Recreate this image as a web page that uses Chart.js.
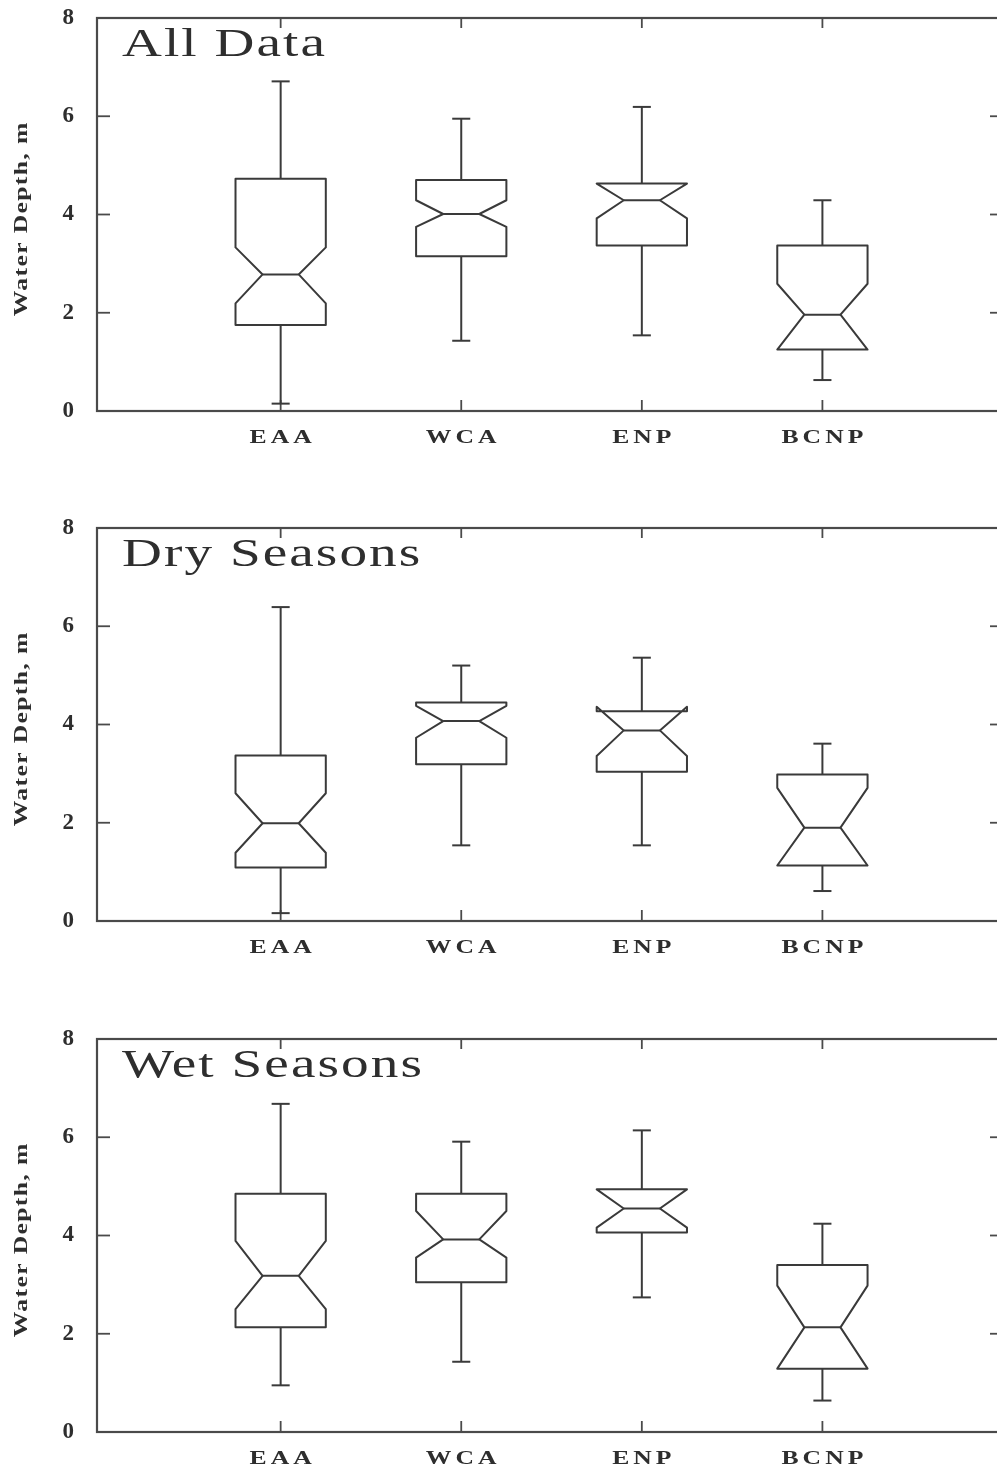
<!DOCTYPE html>
<html lang="en">
<head>
<meta charset="UTF-8">
<title>Water Depth Box Plots</title>
<script src="https://cdn.jsdelivr.net/npm/chart.js"></script>
<style>
    html, body { margin: 0; padding: 0; background: #fff; overflow: hidden; width: 997px; height: 1474px; }
    .panel { position: absolute; left: 0; width: 1006px; height: 510px; }
</style>
</head>
<body>
<div class="panel" style="top:0px"><canvas id="allChart" width="1006" height="510"></canvas></div>
<div class="panel" style="top:510px"><canvas id="dryChart" width="1006" height="510"></canvas></div>
<div class="panel" style="top:1021px"><canvas id="wetChart" width="1006" height="510"></canvas></div>
<script>
// categories and axis ticks
const sites = ['EAA', 'WCA', 'ENP', 'BCNP'];
const yTicks = [0, 2, 4, 6, 8];

// All Data
const allLow      = [0.15, 1.43, 1.54, 0.63];
const allQ1       = [1.75, 3.15, 3.37, 1.25];
const allNotchLo  = [2.19, 3.75, 3.92, 1.25];
const allMedian   = [2.78, 4.01, 4.29, 1.96];
const allNotchHi  = [3.33, 4.29, 4.63, 2.59];
const allQ3       = [4.73, 4.70, 4.63, 3.37];
const allHigh     = [6.71, 5.95, 6.19, 4.29];

// Dry Seasons
const dryLow      = [0.16, 1.54, 1.54, 0.61];
const dryQ1       = [1.09, 3.19, 3.04, 1.13];
const dryNotchLo  = [1.39, 3.73, 3.36, 1.13];
const dryMedian   = [1.99, 4.07, 3.88, 1.90];
const dryNotchHi  = [2.60, 4.38, 4.36, 2.71];
const dryQ3       = [3.37, 4.45, 4.27, 2.98];
const dryHigh     = [6.39, 5.20, 5.36, 3.61];

// Wet Seasons
const wetLow      = [0.95, 1.43, 2.74, 0.64];
const wetQ1       = [2.13, 3.05, 4.06, 1.29];
const wetNotchLo  = [2.50, 3.55, 4.16, 1.29];
const wetMedian   = [3.18, 3.92, 4.55, 2.13];
const wetNotchHi  = [3.89, 4.50, 4.94, 2.98];
const wetQ3       = [4.85, 4.85, 4.94, 3.40];
const wetHigh     = [6.68, 5.91, 6.14, 4.24];

const ink = '#2e2e2e';
const serif = "'Liberation Serif', 'Times New Roman', serif";

// draws text stretched horizontally, with letter spacing
function stretchText(ctx, text, x, y, font, sx, spacing, align) {
    ctx.save();
    ctx.font = font;
    ctx.letterSpacing = spacing + 'px';
    const w = (ctx.measureText(text).width - spacing) * sx;
    const left = align === 'center' ? x - w / 2 : x;
    ctx.translate(left, y);
    ctx.scale(sx, 1);
    ctx.textAlign = 'left';
    ctx.fillText(text, 0, 0);
    ctx.restore();
}

function line(ctx, x1, y1, x2, y2) {
    ctx.beginPath();
    ctx.moveTo(x1, y1);
    ctx.lineTo(x2, y2);
    ctx.stroke();
}

const boxPlugin = {
    id: 'notchedBoxes',
    afterDraw(chart, args, opts) {
        const { ctx, chartArea: a, scales: { x, y } } = chart;
        const s = opts.stats;
        ctx.save();

        // frame + inner ticks
        ctx.strokeStyle = '#4a4a4a';
        ctx.lineWidth = 2.2;
        ctx.strokeRect(a.left, a.top, a.right - a.left, a.bottom - a.top);
        ctx.lineWidth = 1.8;
        yTicks.forEach(v => {
            const py = y.getPixelForValue(v);
            line(ctx, a.left, py, a.left + 13, py);
            line(ctx, a.right, py, a.right - 13, py);
        });
        sites.forEach((_, i) => {
            const px = x.getPixelForValue(i + 1);
            line(ctx, px, a.top, px, a.top + 10);
            line(ctx, px, a.bottom, px, a.bottom - 11);
        });

        // notched boxes
        ctx.strokeStyle = '#3a3a3a';
        ctx.lineWidth = 2;
        ctx.lineJoin = 'round';
        sites.forEach((_, i) => {
            const c = i + 1;
            const cx = x.getPixelForValue(c);
            const L = x.getPixelForValue(c - 0.25), R = x.getPixelForValue(c + 0.25);
            const iL = x.getPixelForValue(c - 0.1), iR = x.getPixelForValue(c + 0.1);
            const cL = x.getPixelForValue(c - 0.05), cR = x.getPixelForValue(c + 0.05);
            const q1 = y.getPixelForValue(s.q1[i]), q3 = y.getPixelForValue(s.q3[i]);
            const nLo = y.getPixelForValue(s.notchLo[i]), nHi = y.getPixelForValue(s.notchHi[i]);
            const md = y.getPixelForValue(s.median[i]);
            const lo = y.getPixelForValue(s.low[i]), hi = y.getPixelForValue(s.high[i]);

            ctx.beginPath();
            ctx.moveTo(L, q1);
            ctx.lineTo(L, nLo);
            ctx.lineTo(iL, md);
            ctx.lineTo(L, nHi);
            ctx.lineTo(L, q3);
            ctx.lineTo(R, q3);
            ctx.lineTo(R, nHi);
            ctx.lineTo(iR, md);
            ctx.lineTo(R, nLo);
            ctx.lineTo(R, q1);
            ctx.closePath();
            ctx.stroke();

            line(ctx, iL, md, iR, md);
            // whiskers
            line(ctx, cx, q3, cx, hi);
            line(ctx, cL, hi, cR, hi);
            line(ctx, cx, q1, cx, lo);
            line(ctx, cL, lo, cR, lo);
        });

        // text
        ctx.fillStyle = ink;
        ctx.textBaseline = 'middle';
        sites.forEach((name, i) => {
            stretchText(ctx, name, x.getPixelForValue(i + 1), a.bottom + 27, 'bold 19px ' + serif, 1.35, 3, 'center');
        });
        ctx.save();
        ctx.translate(22, (a.top + a.bottom) / 2 + 5);
        ctx.rotate(-Math.PI / 2);
        stretchText(ctx, 'Water Depth, m', 0, 0, 'bold 19px ' + serif, 1.35, 1, 'center');
        ctx.restore();

        ctx.textBaseline = 'alphabetic';
        stretchText(ctx, opts.title, 122, a.top + 38, '40px ' + serif, 1.38, 1.5, 'left');
        ctx.restore();
    }
};

function createBoxChart(id, title, stats) {
    return new Chart(document.getElementById(id), {
        type: 'scatter',
        data: { datasets: [] },
        options: {
            responsive: false,
            animation: false,
            layout: { padding: { top: 18, right: 3, bottom: 0, left: 0 } },
            plugins: {
                legend: { display: false },
                tooltip: { enabled: false },
                notchedBoxes: { title: title, stats: stats }
            },
            scales: {
                x: {
                    type: 'linear',
                    min: -0.017,
                    max: 5,
                    grid: { display: false, drawTicks: false },
                    border: { display: false },
                    ticks: { display: false },
                    afterFit: scale => {
                        scale.height = 99;
                        scale.paddingLeft = 0;
                        scale.paddingRight = 0;
                    }
                },
                y: {
                    type: 'linear',
                    min: 0,
                    max: 8,
                    grid: { display: false, drawTicks: false },
                    border: { display: false },
                    afterBuildTicks: scale => { scale.ticks = yTicks.map(v => ({ value: v })); },
                    ticks: {
                        padding: 23,
                        color: ink,
                        font: { family: serif, size: 23, weight: 'bold' }
                    },
                    afterFit: scale => {
                        scale.width = 97;
                        scale.paddingTop = 0;
                        scale.paddingBottom = 0;
                    }
                }
            }
        },
        plugins: [boxPlugin]
    });
}

createBoxChart('allChart', 'All Data', {
    low: allLow, q1: allQ1, notchLo: allNotchLo, median: allMedian,
    notchHi: allNotchHi, q3: allQ3, high: allHigh
});
createBoxChart('dryChart', 'Dry Seasons', {
    low: dryLow, q1: dryQ1, notchLo: dryNotchLo, median: dryMedian,
    notchHi: dryNotchHi, q3: dryQ3, high: dryHigh
});
createBoxChart('wetChart', 'Wet Seasons', {
    low: wetLow, q1: wetQ1, notchLo: wetNotchLo, median: wetMedian,
    notchHi: wetNotchHi, q3: wetQ3, high: wetHigh
});
</script>
</body>
</html>
